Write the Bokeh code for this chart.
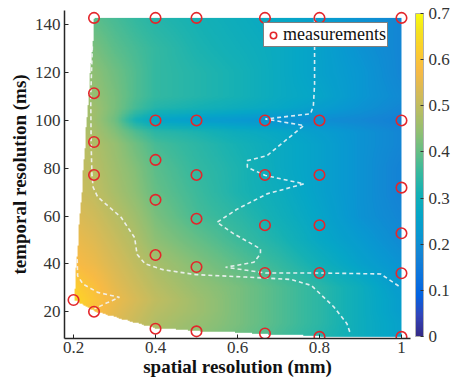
import numpy as np
from bokeh.plotting import figure
from bokeh.models import (LinearColorMapper, ColorBar, FixedTicker,
                          NumeralTickFormatter, Range1d)
from bokeh.embed import file_html
from bokeh.resources import INLINE

# ---------------- data ----------------
# measurement points (spatial resolution mm, temporal resolution ms)
meas_x = [0.2,
          0.25, 0.25, 0.25, 0.25, 0.25,
          0.4, 0.4, 0.4, 0.4, 0.4, 0.4,
          0.5, 0.5, 0.5, 0.5, 0.5, 0.5,
          0.667, 0.667, 0.667, 0.667, 0.667, 0.667,
          0.8, 0.8, 0.8, 0.8, 0.8, 0.8,
          1.0, 1.0, 1.0, 1.0, 1.0, 1.0]
meas_y = [24.9,
          142.9, 111.4, 91.0, 77.2, 20.0,
          142.9, 100.0, 83.5, 66.8, 43.7, 12.9,
          142.9, 100.0, 77.2, 58.9, 38.7, 11.8,
          142.9, 100.0, 77.2, 56.2, 36.2, 10.9,
          142.9, 100.0, 77.2, 56.2, 36.2, 9.5,
          142.9, 100.0, 71.9, 52.8, 36.1, 9.5]

# surface values (rows: grid_y, cols: grid_x)
grid_x = [0.2, 0.25, 0.3, 0.35, 0.4, 0.5, 0.6, 0.7, 0.8, 0.9, 1.0]
grid_y = [9, 15, 20, 25, 30, 40, 50, 60, 70, 80, 90, 95, 100, 105, 110, 120, 130, 143]
grid_z = [
    [0.58, 0.55, 0.52, 0.50, 0.47, 0.44, 0.41, 0.37, 0.33, 0.29, 0.25],
    [0.60, 0.57, 0.54, 0.51, 0.48, 0.45, 0.42, 0.38, 0.34, 0.29, 0.25],
    [0.62, 0.59, 0.55, 0.52, 0.49, 0.46, 0.42, 0.38, 0.34, 0.29, 0.24],
    [0.64, 0.60, 0.56, 0.53, 0.50, 0.46, 0.42, 0.38, 0.34, 0.29, 0.24],
    [0.62, 0.59, 0.55, 0.52, 0.49, 0.45, 0.42, 0.38, 0.34, 0.29, 0.23],
    [0.58, 0.56, 0.53, 0.50, 0.47, 0.43, 0.39, 0.35, 0.30, 0.25, 0.21],
    [0.56, 0.54, 0.51, 0.48, 0.44, 0.40, 0.36, 0.32, 0.27, 0.23, 0.19],
    [0.54, 0.52, 0.49, 0.46, 0.42, 0.37, 0.34, 0.30, 0.26, 0.21, 0.18],
    [0.52, 0.50, 0.47, 0.44, 0.40, 0.36, 0.32, 0.29, 0.25, 0.21, 0.17],
    [0.51, 0.49, 0.46, 0.43, 0.39, 0.35, 0.32, 0.28, 0.25, 0.21, 0.17],
    [0.50, 0.48, 0.45, 0.41, 0.37, 0.34, 0.31, 0.28, 0.25, 0.21, 0.18],
    [0.49, 0.47, 0.43, 0.38, 0.34, 0.32, 0.29, 0.27, 0.24, 0.21, 0.18],
    [0.48, 0.46, 0.41, 0.31, 0.26, 0.24, 0.225, 0.21, 0.20, 0.185, 0.165],
    [0.48, 0.46, 0.42, 0.37, 0.33, 0.31, 0.29, 0.27, 0.24, 0.21, 0.18],
    [0.47, 0.45, 0.42, 0.38, 0.35, 0.33, 0.31, 0.28, 0.26, 0.22, 0.19],
    [0.46, 0.44, 0.41, 0.38, 0.35, 0.33, 0.31, 0.28, 0.25, 0.22, 0.18],
    [0.45, 0.42, 0.39, 0.37, 0.35, 0.32, 0.30, 0.28, 0.25, 0.21, 0.18],
    [0.43, 0.39, 0.37, 0.35, 0.33, 0.31, 0.29, 0.27, 0.24, 0.21, 0.18],
]

# dashed white contour lines
contour_xs = [
    [0.788, 0.788, 0.785, 0.778, 0.668, 0.762, 0.672, 0.624, 0.624, 0.668, 0.762,
     0.672, 0.60, 0.55, 0.591, 0.656, 0.656, 0.64, 0.571, 0.668, 0.802, 0.949, 0.998],
    [0.246, 0.242, 0.243, 0.245, 0.248, 0.259, 0.316, 0.349, 0.355, 0.375, 0.42,
     0.50, 0.62, 0.73, 0.78, 0.835, 0.867, 0.876],
    [0.209, 0.21, 0.223, 0.259, 0.312, 0.284, 0.251],
]
contour_ys = [
    [142.9, 115.0, 106.0, 102.8, 100.6, 97.9, 85.3, 83.2, 80.4, 77.0, 73.5,
     69.3, 63.0, 57.4, 52.6, 46.3, 44.2, 40.7, 38.6, 36.2, 36.2, 35.8, 30.2],
    [131.0, 110.0, 90.0, 77.0, 72.0, 68.0, 59.5, 51.0, 44.0, 40.0, 37.5,
     35.5, 34.5, 33.5, 31.0, 22.0, 15.0, 10.5],
    [42.0, 35.0, 31.6, 28.1, 26.0, 23.9, 21.2],
]

cbar_ticks = [0, 0.1, 0.2, 0.3, 0.4, 0.5, 0.6, 0.7]
x_ticks = [0.2, 0.4, 0.6, 0.8, 1.0]
y_ticks = [20, 40, 60, 80, 100, 120, 140]

# ---------------- colormap (parula) ----------------
stops = [
    (0.2081, 0.1663, 0.5292), (0.1959, 0.2645, 0.7279), (0.0117, 0.3875, 0.8820),
    (0.0498, 0.4586, 0.8641), (0.0793, 0.5200, 0.8312), (0.0343, 0.5966, 0.8199),
    (0.0228, 0.6535, 0.7768), (0.0843, 0.6928, 0.7062), (0.2178, 0.7250, 0.6193),
    (0.3953, 0.7459, 0.5244), (0.5709, 0.7485, 0.4494), (0.7184, 0.7411, 0.3905),
    (0.8507, 0.7299, 0.3360), (0.9739, 0.7314, 0.2666), (0.9880, 0.8066, 0.1794),
    (0.9589, 0.8949, 0.1132), (0.9763, 0.9831, 0.0538)]
spos = [i * 4 / 63 for i in range(16)] + [1.0]
t = np.linspace(0, 1, 256)
st = np.array(stops)
chans = [np.interp(t, spos, st[:, k]) for k in range(3)]
palette = ["#%02x%02x%02x" % tuple(int(round(c[i] * 255)) for c in chans) for i in range(256)]

# ---------------- surface rendering ----------------
gx = np.array(grid_x); gy = np.array(grid_y, dtype=float); gz = np.array(grid_z)
x0, x1 = min(meas_x), max(meas_x)
y0, y1 = min(meas_y), max(meas_y)
nx, ny = 420, 420
fx = np.linspace(x0, x1, nx)
fy = np.linspace(y0, y1, ny)
tmp = np.array([np.interp(fx, gx, row) for row in gz])
img = np.array([np.interp(fy, gy, tmp[:, j]) for j in range(nx)]).T

# convex hull of measurement points -> mask
pts = sorted(set(zip(meas_x, meas_y)))
def cross(o, a, b):
    return (a[0] - o[0]) * (b[1] - o[1]) - (a[1] - o[1]) * (b[0] - o[0])
lower, upper = [], []
for pnt in pts:
    while len(lower) >= 2 and cross(lower[-2], lower[-1], pnt) <= 0:
        lower.pop()
    lower.append(pnt)
for pnt in reversed(pts):
    while len(upper) >= 2 and cross(upper[-2], upper[-1], pnt) <= 0:
        upper.pop()
    upper.append(pnt)
hull = lower[:-1] + upper[:-1]
X, Y = np.meshgrid(fx, fy)
inside = np.ones_like(X, dtype=bool)
for i in range(len(hull)):
    ax_, ay_ = hull[i]
    bx_, by_ = hull[(i + 1) % len(hull)]
    c = (bx_ - ax_) * (Y - ay_) - (by_ - ay_) * (X - ax_)
    inside &= c >= -1e-9 * (abs(bx_ - ax_) + abs(by_ - ay_))
img = np.where(inside, img, np.nan)

mapper = LinearColorMapper(palette=palette, low=0, high=0.7, nan_color="rgba(0,0,0,0)")

# ---------------- figure ----------------
FONT = "Liberation Serif"
p = figure(width=468, height=385, output_backend="svg", toolbar_location=None,
           x_range=Range1d(0.178, 1.022), y_range=Range1d(8.8, 146),
           min_border_left=64, min_border_right=58, min_border_top=10, min_border_bottom=47)
p.outline_line_color = None
p.grid.visible = False
p.background_fill_color = "white"

p.image(image=[img], x=x0, y=y0, dw=x1 - x0, dh=y1 - y0, color_mapper=mapper)
p.multi_line(xs=contour_xs, ys=contour_ys, line_color="#f2f4f7", line_alpha=0.9,
             line_width=1.6, line_dash="4 3")
p.scatter(x=meas_x, y=meas_y, marker="circle", size=10.5, fill_color=None,
          line_color="#e3262b", line_width=1.6, legend_label="measurements")

for ax in (p.xaxis[0], p.yaxis[0]):
    ax.axis_line_color = "#262626"
    ax.axis_line_width = 1.5
    ax.major_tick_line_color = "#262626"
    ax.major_tick_in = 4
    ax.major_tick_out = 0
    ax.minor_tick_line_color = None
    ax.major_label_text_font = FONT
    ax.major_label_text_font_size = "17px"
    ax.major_label_text_color = "#333333"
    ax.axis_label_text_font = FONT
    ax.axis_label_text_font_style = "bold"
    ax.axis_label_text_font_size = "19px"
    ax.axis_label_text_color = "#111111"

p.xaxis.ticker = FixedTicker(ticks=x_ticks)
p.xaxis.formatter = NumeralTickFormatter(format="0.[0]")
p.yaxis.ticker = FixedTicker(ticks=y_ticks)
p.xaxis.axis_label = "spatial resolution (mm)"
p.yaxis.axis_label = "temporal resolution (ms)"
p.xaxis.major_label_standoff = 3
p.xaxis.axis_label_standoff = 0
p.yaxis.major_label_standoff = 4
p.yaxis.axis_label_standoff = 2

cb = ColorBar(color_mapper=mapper, ticker=FixedTicker(ticks=cbar_ticks),
              formatter=NumeralTickFormatter(format="0.[0]"),
              width=8, height=323, padding=0, margin=0, location=(5, 2),
              bar_line_color="#b0b0b0", bar_line_width=1,
              major_tick_line_color="#333333", major_tick_in=3, major_tick_out=0,
              minor_tick_line_color=None,
              major_label_text_font=FONT, major_label_text_font_size="17px",
              major_label_text_color="#333333", label_standoff=5,
              background_fill_color=None, border_line_color=None)
p.add_layout(cb, "right")

lg = p.legend[0]
lg.location = (199, 291)
lg.padding = 1
lg.margin = 0
lg.glyph_width = 16
lg.glyph_height = 16
lg.label_height = 18
lg.label_standoff = 2
lg.label_text_font = FONT
lg.label_text_font_size = "18px"
lg.label_text_color = "#111111"
lg.border_line_color = "black"
lg.border_line_width = 1.2
lg.background_fill_alpha = 1.0

open("out.html", "w").write(file_html(p, INLINE))
